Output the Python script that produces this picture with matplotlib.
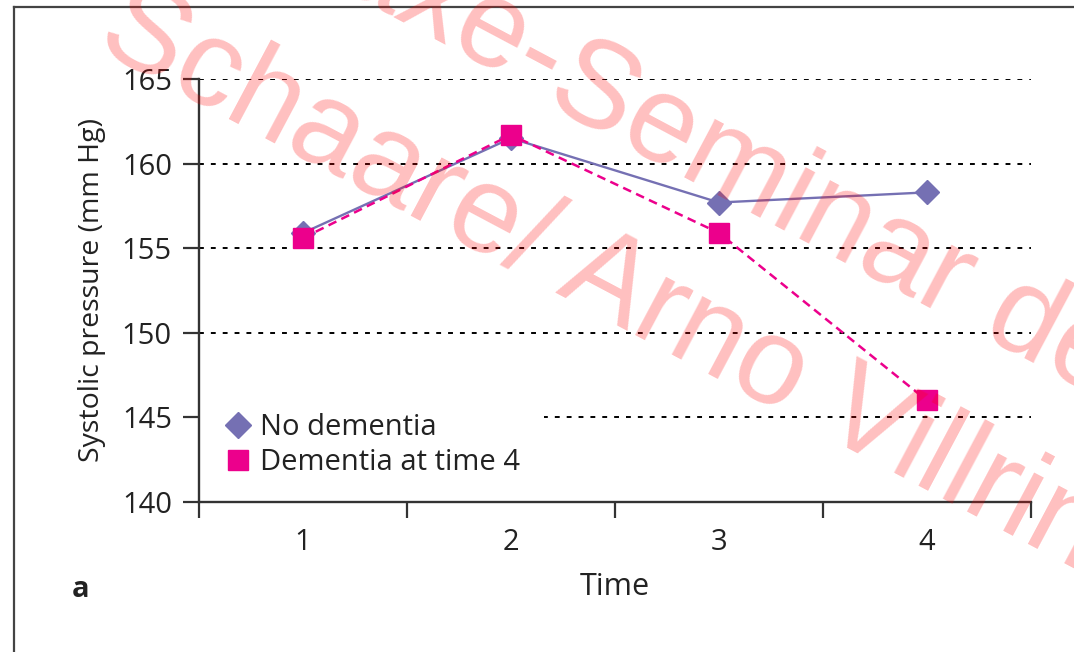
import numpy as np
import matplotlib
matplotlib.use("Agg")
import matplotlib.pyplot as plt
from matplotlib.lines import Line2D

# systolic pressure per visit
times = [1, 2, 3, 4]
time_labels = ["1", "2", "3", "4"]
no_dementia = [155.9, 161.5, 157.7, 158.3]
dementia_t4 = [155.6, 161.7, 155.9, 146.0]
y_ticks = [140, 145, 150, 155, 160, 165]

purple = "#7570B3"
magenta = "#EC008C"
ink = "#333333"
txt = "#222222"

plt.rcParams["font.family"] = ["Open Sans", "DejaVu Sans"]

W, H = 1074, 652
fig = plt.figure(figsize=(W / 100, H / 100), dpi=100)
ax = fig.add_axes([199 / W, 1 - 502 / H, 832 / W, 423 / H])

ax.plot(times, no_dementia, color=purple, lw=1.7, marker="D", ms=12.5,
        mec=purple, zorder=3)
ax.plot(times, dementia_t4, color=magenta, lw=1.8, ls=(0, (3.5, 2.2)),
        marker="s", ms=14, mec=magenta, zorder=4)

ax.set_xlim(0.5, 4.5)
ax.set_ylim(140, 165)
ax.set_yticks(y_ticks)
ax.set_xticks(np.arange(0.5, 4.6, 1.0))
ax.set_xticklabels([])
ax.set_xticks(times, minor=True)
ax.set_xticklabels(time_labels, minor=True)

ax.set_axisbelow(True)
ax.yaxis.grid(True, color="black", lw=1.4, ls=(0, (2.5, 3.6)))

for side in ("top", "right"):
    ax.spines[side].set_visible(False)
for side in ("left", "bottom"):
    ax.spines[side].set_color(ink)
    ax.spines[side].set_linewidth(1.7)

ax.tick_params(which="major", direction="out", length=11.5, width=1.6,
               color=ink, labelsize=21, labelcolor=txt)
ax.tick_params(axis="y", pad=8)
ax.tick_params(axis="x", which="minor", length=0, pad=19, labelsize=21,
               labelcolor=txt)

ax.set_ylabel("Systolic pressure (mm Hg)", fontsize=20.5, color=txt)
ax.yaxis.set_label_coords(-0.112, 0.5)
ax.set_xlabel("Time", fontsize=22, color=txt)
ax.xaxis.set_label_coords(0.5, -0.166)

handles = [
    Line2D([], [], ls="none", marker="D", ms=13, color=purple, mec=purple),
    Line2D([], [], ls="none", marker="s", ms=15, color=magenta, mec=magenta),
]
# white box sits inside the axes so it hides the 145 grid line only
leg = ax.legend(handles, ["No dementia", "Dementia at time 4"],
                loc="lower left", bbox_to_anchor=(0.001, 0.001),
                fontsize=21, frameon=True, facecolor="white",
                edgecolor="none", framealpha=1.0, fancybox=False,
                handlelength=0.9, handletextpad=0.3, labelspacing=0.2,
                borderpad=0.85, borderaxespad=0.0)
for t in leg.get_texts():
    t.set_color(txt)
leg.set_zorder(1.2)  # above the grid, under the spines

fig.text(72 / W, 1 - 597 / H, "a", fontsize=21, fontweight="bold",
         color=txt, va="baseline")

# outer frame
fig.add_artist(Line2D([14 / W, 14 / W], [0, 1 - 7 / H], color="#444444",
                      lw=1.6, transform=fig.transFigure))
fig.add_artist(Line2D([14 / W, 1], [1 - 7 / H, 1 - 7 / H], color="#444444",
                      lw=1.6, transform=fig.transFigure))

# watermark
wm = dict(fontsize=89, family="Liberation Sans", color="red", alpha=0.25,
          rotation=-28, rotation_mode="anchor", va="baseline", zorder=20)
fig.text(93 / W, 1 - 47 / H, "Schaare/ Arno Villringer", ha="left", **wm)
fig.text(543 / W, 1 - 102 / H, "Praxe-", ha="right", **wm)
fig.text(543 / W, 1 - 102 / H, "Seminar der", ha="left", **wm)

fig.savefig("out.png", dpi=100)
